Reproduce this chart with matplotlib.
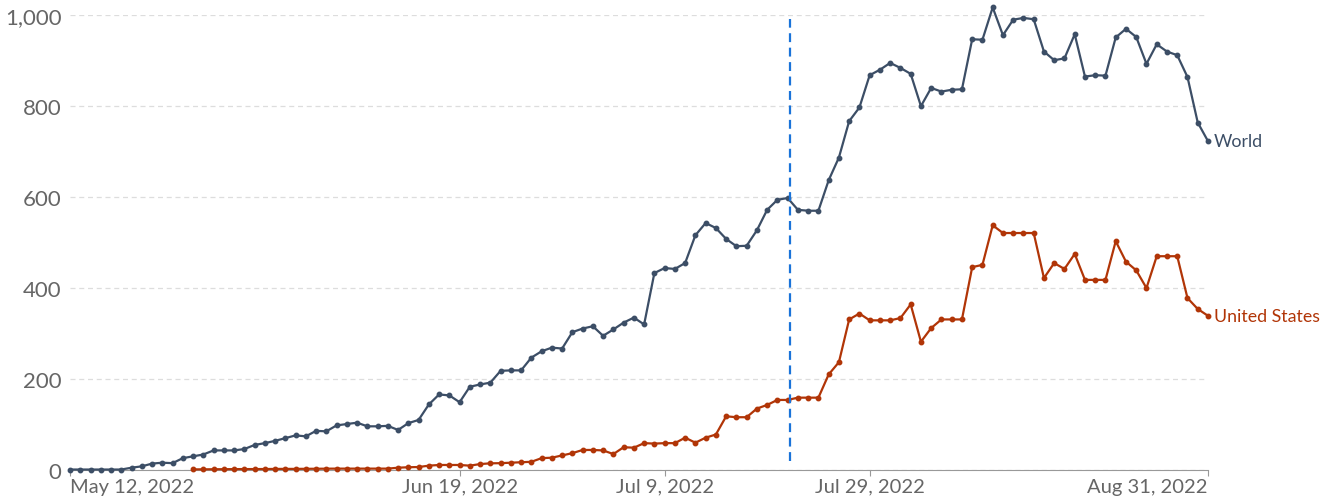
import pandas as pd
import matplotlib.pyplot as plt
from matplotlib.ticker import FuncFormatter

plt.rcParams['font.family'] = ['Lato', 'DejaVu Sans']

# 7-day averages, daily from May 12, 2022
world_start = "2022-05-12"
world = [0, 0, 0, 0, 0, 0, 4, 7, 13, 15, 14, 25, 29, 33, 42, 42, 42, 45, 54, 58,
         63, 69, 75, 73, 85, 84, 97, 100, 103, 95, 95, 96, 87, 102, 109, 143, 165, 163, 148, 182,
         187, 191, 217, 218, 218, 246, 260, 268, 266, 302, 310, 315, 294, 308, 323, 334, 319, 432, 443, 441,
         454, 515, 542, 531, 507, 491, 492, 526, 571, 593, 597, 571, 569, 569, 636, 686, 766, 796, 867, 879,
         894, 883, 870, 799, 839, 831, 835, 836, 946, 945, 1016, 955, 989, 993, 990, 919, 900, 904, 957, 864,
         867, 866, 950, 969, 951, 892, 935, 919, 911, 863, 763, 722]

us_start = "2022-05-24"
us = [0.3, 0.4, 0.6, 0.7, 0.9, 1, 1, 1.1, 1.3, 1.4, 1.4, 1.6, 1.7, 1.9,
      2, 2, 2, 2, 2, 2, 4, 5, 5.5, 8.5, 10, 10, 10, 8.5, 12, 13.6,
      14, 15, 16, 17, 25, 26, 31, 36, 43, 43, 42, 34, 49, 48, 58, 57, 58, 58, 70, 59,
      70, 77, 117, 115, 115, 134, 142, 153, 153, 158, 158, 158, 209, 236, 330, 343, 328, 328, 328, 333,
      363, 281, 311, 330, 330, 330, 445, 450, 537, 520, 520, 520, 520, 421, 454, 441, 474, 417, 417, 417,
      502, 457, 438, 399, 469, 469, 469, 377, 353, 338]

marker_date = pd.Timestamp("2022-07-21 05:00")
tick_dates = ["2022-05-12", "2022-06-19", "2022-07-09", "2022-07-29", "2022-08-31"]
tick_labels = ["May 12, 2022", "Jun 19, 2022", "Jul 9, 2022", "Jul 29, 2022", "Aug 31, 2022"]

world_dates = pd.date_range(world_start, periods=len(world), freq="D")
us_dates = pd.date_range(us_start, periods=len(us), freq="D")

world_col = "#3c4e66"
us_col = "#b13507"

fig = plt.figure(figsize=(13.26, 5.02), dpi=100)
ax = fig.add_axes([0.0528, 0.0627, 0.8582, 0.906])

ax.plot(world_dates, world, color=world_col, lw=1.6, marker="o", ms=3.2, clip_on=False, zorder=3)
ax.plot(us_dates, us, color=us_col, lw=1.6, marker="o", ms=3.2, clip_on=False, zorder=3)

# dashed marker line
ax.vlines(marker_date, 19, 990, colors="#1a73d9", linestyles=(0, (4, 2.5)), lw=1.6, zorder=4)

# end labels
ax.text(world_dates[-1] + pd.Timedelta(hours=14), world[-1], "World", color=world_col,
        fontsize=12.8, va="center", ha="left")
ax.text(us_dates[-1] + pd.Timedelta(hours=14), us[-1], "United States", color=us_col,
        fontsize=12.8, va="center", ha="left")

ax.set_xlim(world_dates[0], world_dates[-1])
ax.set_ylim(0, 1000)
ax.set_yticks([0, 200, 400, 600, 800, 1000])
ax.yaxis.set_major_formatter(FuncFormatter(lambda v, p: f"{int(v):,}"))
ax.grid(axis="y", color="#dddddd", linestyle=(0, (4, 3)), lw=0.9)
ax.set_axisbelow(True)

ax.set_xticks(pd.to_datetime(tick_dates))
ax.set_xticklabels(tick_labels)
labels = ax.get_xticklabels()
labels[0].set_ha("left")
labels[-1].set_ha("right")

for s in ["top", "right", "left"]:
    ax.spines[s].set_visible(False)
ax.spines["bottom"].set_color("#999999")
ax.tick_params(axis="y", length=0, labelsize=16, labelcolor="#666666", pad=6)
ax.tick_params(axis="x", length=4, color="#999999", labelsize=14.5, labelcolor="#666666", pad=2)

fig.savefig("out.png", dpi=100)
